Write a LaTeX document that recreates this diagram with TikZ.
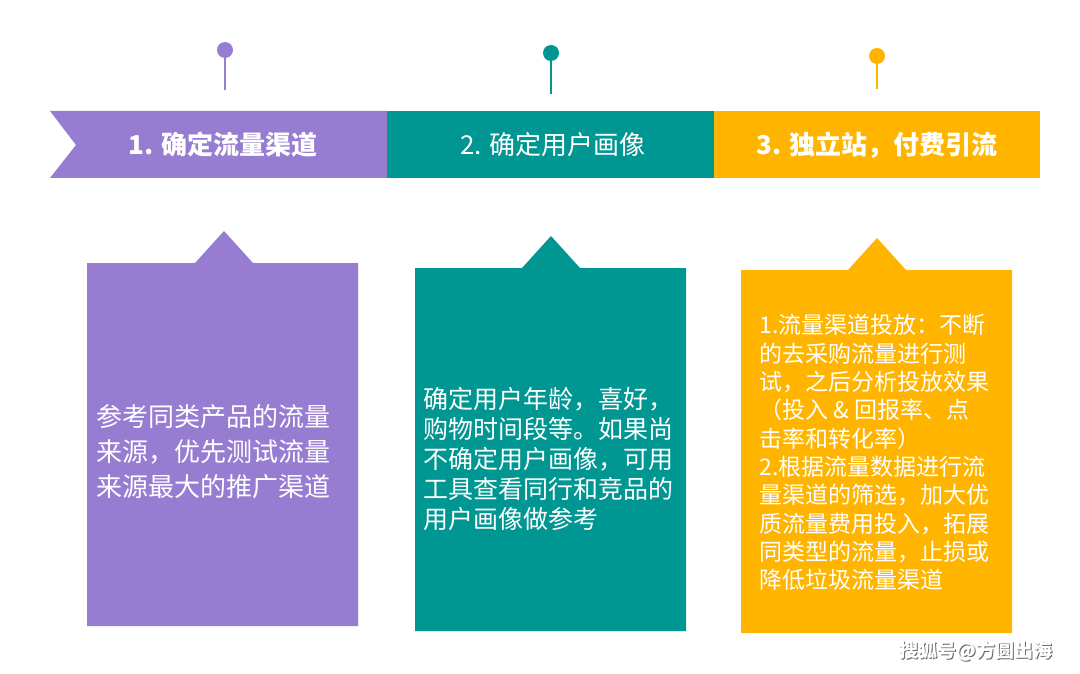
\documentclass[tikz,border=0pt]{standalone}
\usepackage{fontspec}
\setmainfont{Noto Sans CJK SC}
\definecolor{pur}{RGB}{151,125,210}
\definecolor{tea}{RGB}{0,150,145}
\definecolor{ora}{RGB}{255,181,0}
\begin{document}
\begin{tikzpicture}[x=1pt,y=-1pt,
  pin/.style={line width=2.5pt},
  hdr/.style={text=white,font=\fontsize{26}{30}\selectfont,anchor=center},
  body/.style={text=white,anchor=north west,align=left}]
\useasboundingbox (0,0) rectangle (1080,674);
\fill[white] (0,0) rectangle (1080,674);
% pins
\draw[pin,pur] (225,50) -- (225,90); \fill[pur] (225,50) circle (8);
\draw[pin,tea] (551,53) -- (551,94); \fill[tea] (551,53) circle (8);
\draw[pin,ora] (877,56) -- (877,89); \fill[ora] (877,56) circle (8);
% band
\fill[pur] (50,111) -- (387,111) -- (387,178) -- (50,178) -- (76,145) -- cycle;
\fill[tea] (387,111) rectangle (714,178);
\fill[ora] (714,111) rectangle (1040,178);
\node[hdr,font=\bfseries\fontsize{26}{30}\selectfont] (h1) at (223,145) {1. 确定流量渠道};
\node[hdr] (h2) at (553,145) {2. 确定用户画像};
\node[hdr,font=\bfseries\fontsize{26}{30}\selectfont] (h3) at (877,145) {3. 独立站，付费引流};
% boxes
\fill[pur] (87,263) -- (195,263) -- (224,231) -- (253,263) -- (358,263) -- (358,626) -- (87,626) -- cycle;
\fill[tea] (415,268) -- (522,268) -- (551,236) -- (580,268) -- (686,268) -- (686,631) -- (415,631) -- cycle;
\fill[ora] (741,270) -- (848,270) -- (877,238) -- (906,270) -- (1012,270) -- (1012,633) -- (741,633) -- cycle;
\node[body,font=\fontsize{26}{35}\selectfont] (t1) at (93,401) {参考同类产品的流量\\来源，优先测试流量\\来源最大的推广渠道};
\node[body,font=\fontsize{25}{30}\selectfont] (t2) at (420,384) {确定用户年龄，喜好，\\购物时间段等。如果尚\\不确定用户画像，可用\\工具查看同行和竞品的\\用户画像做参考};
\node[body,font=\fontsize{23}{28.3}\selectfont] (t3) at (756,311) {1.流量渠道投放：不断\\的去采购流量进行测\\试，之后分析投放效果\\（投入 \& 回报率、点\\击率和转化率）\\2.根据流量数据进行流\\量渠道的筛选，加大优\\质流量费用投入，拓展\\同类型的流量，止损或\\降低垃圾流量渠道};
\node[text=black!60,font=\bfseries\fontsize{19}{22}\selectfont,anchor=east] (wms) at (1057,652) {搜狐号@方圆出海};
\node[text=white,font=\bfseries\fontsize{19}{22}\selectfont,anchor=east] (wm) at (1056,651) {搜狐号@方圆出海};
\end{tikzpicture}
\end{document}
